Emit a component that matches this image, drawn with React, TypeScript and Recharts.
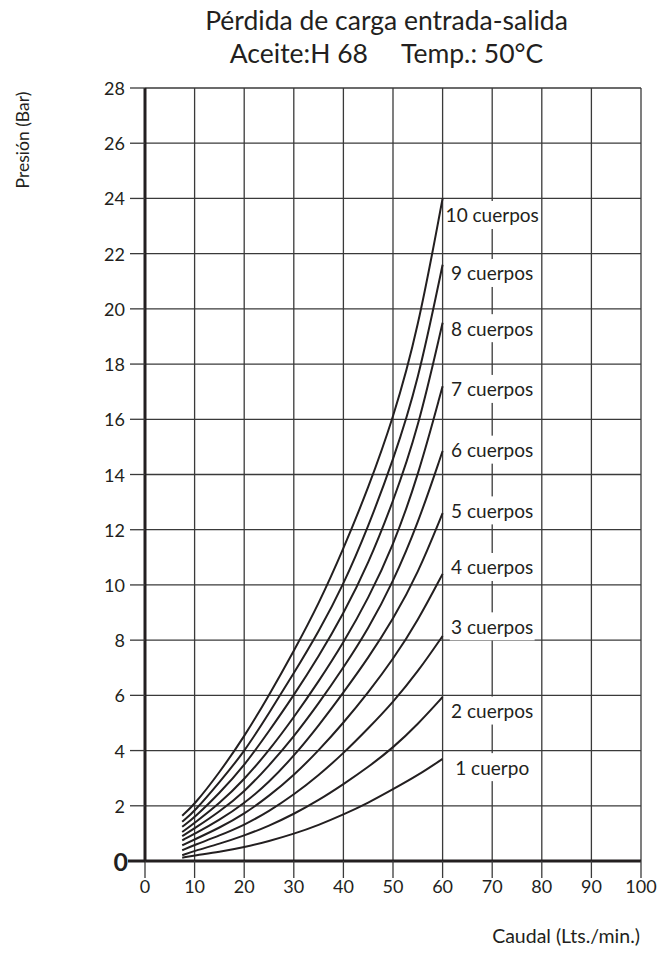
import React from "react";
import { LineChart, Line, XAxis, YAxis, CartesianGrid, ReferenceDot } from "recharts";

// caudal (Lts./min.)
const caudal = [7.5, 10, 15, 20, 25, 30, 35, 40, 45, 50, 55, 60];

// presión (Bar) por número de cuerpos
const c1 = [0.12, 0.2, 0.33, 0.5, 0.72, 0.98, 1.3, 1.68, 2.1, 2.6, 3.1, 3.7];
const c2 = [0.21, 0.37, 0.62, 0.92, 1.27, 1.7, 2.2, 2.78, 3.4, 4.1, 4.95, 5.94];
const c3 = [0.39, 0.58, 0.92, 1.3, 1.8, 2.4, 3.1, 3.9, 4.8, 5.75, 6.85, 8.15];
const c4 = [0.57, 0.78, 1.2, 1.7, 2.35, 3.1, 4.0, 5.0, 6.1, 7.3, 8.7, 10.4];
const c5 = [0.75, 0.98, 1.48, 2.08, 2.85, 3.8, 4.9, 6.1, 7.35, 8.75, 10.4, 12.6];
const c6 = [0.9, 1.18, 1.78, 2.5, 3.45, 4.5, 5.7, 7.0, 8.4, 10.1, 12.2, 14.85];
const c7 = [1.05, 1.38, 2.08, 2.95, 4.0, 5.2, 6.5, 7.9, 9.5, 11.4, 13.9, 17.2];
const c8 = [1.24, 1.58, 2.45, 3.45, 4.7, 6.0, 7.4, 8.95, 10.75, 13.0, 15.6, 19.5];
const c9 = [1.42, 1.8, 2.85, 3.95, 5.35, 6.8, 8.3, 10.0, 12.1, 14.5, 17.3, 21.6];
const c10 = [1.64, 2.05, 3.2, 4.5, 6.0, 7.6, 9.3, 11.3, 13.5, 16.0, 19.2, 24.0];

const series = [c1, c2, c3, c4, c5, c6, c7, c8, c9, c10];

const labelText = ["1 cuerpo", "2 cuerpos", "3 cuerpos", "4 cuerpos", "5 cuerpos", "6 cuerpos", "7 cuerpos", "8 cuerpos", "9 cuerpos", "10 cuerpos"];
const labelY = [3.4, 5.45, 8.5, 10.65, 12.7, 14.9, 17.1, 19.3, 21.3, 23.4];
const labelX = 70;

const xTicks = [0, 10, 20, 30, 40, 50, 60, 70, 80, 90, 100];
const yTicks = [0, 2, 4, 6, 8, 10, 12, 14, 16, 18, 20, 22, 24, 26, 28];

const data = caudal.map((q, i) => {
  const row: any = { q };
  series.forEach((s, k) => (row[`c${k + 1}`] = s[i]));
  return row;
});

const INK = "#231f20";
const GRID = "#3a3a3a";

const YTick = (props: any) => {
  const { x, y, payload } = props;
  if (payload.value === 0) {
    return (
      <g>
        <line x1={x} x2={x + 17} y1={y} y2={y} stroke={INK} strokeWidth={3} />
        <text x={x} y={y} textAnchor="end" dominantBaseline="central" fontSize={25} fontWeight={700} fill={INK}>
          0
        </text>
      </g>
    );
  }
  return (
    <text x={x - 3} y={y} textAnchor="end" dominantBaseline="central" fontSize={18} fill={INK}>
      {payload.value}
    </text>
  );
};

const CurveLabel = (text: string) => (props: any) => {
  const { cx, cy } = props;
  const w = text.length * 9.2 + 2;
  return (
    <g>
      <rect x={cx - w / 2} y={cy - 14} width={w} height={28} fill="#fff" />
      <text x={cx} y={cy} textAnchor="middle" dominantBaseline="central" fontSize={19} fill={INK}>
        {text}
      </text>
    </g>
  );
};

export default function App() {
  return (
    <div style={{ position: "absolute", left: 0, top: 0, width: 659, height: 953, background: "#fff", fontFamily: "Lato, sans-serif", color: INK }}>
      <div style={{ position: "absolute", left: 145, width: 483, top: 4, textAlign: "center", fontSize: 26.5, lineHeight: "33px" }}>
        <div>Pérdida de carga entrada-salida</div>
        <div style={{ whiteSpace: "pre" }}>{"Aceite:H 68     Temp.: 50°C"}</div>
      </div>
      <div style={{ position: "absolute", left: 22, top: 140, transform: "translate(-50%, -50%) rotate(-90deg)", fontSize: 17.5, whiteSpace: "nowrap" }}>
        Presión (Bar)
      </div>
      <div style={{ position: "absolute", right: 19, top: 924, fontSize: 19.5, whiteSpace: "nowrap" }}>
        Caudal (Lts./min.)
      </div>
      <LineChart width={659} height={953} data={data} margin={{ top: 88, right: 18, bottom: 62, left: 100 }} style={{ fontFamily: "Lato, sans-serif" }}>
        <CartesianGrid stroke={GRID} strokeWidth={1.3} horizontalValues={yTicks} verticalValues={xTicks} />
        <XAxis
          dataKey="q"
          type="number"
          domain={[0, 100]}
          ticks={xTicks}
          interval={0}
          height={30}
          tickSize={17}
          axisLine={{ stroke: INK, strokeWidth: 3 }}
          tickLine={{ stroke: GRID, strokeWidth: 1.3 }}
          tick={{ fontSize: 18, fill: INK }}
        />
        <YAxis
          type="number"
          domain={[0, 28]}
          ticks={yTicks}
          interval={0}
          width={45}
          tickSize={15}
          axisLine={{ stroke: INK, strokeWidth: 3 }}
          tickLine={{ stroke: GRID, strokeWidth: 1.3 }}
          tick={<YTick />}
        />
        {series.map((_, k) => (
          <Line key={k} dataKey={`c${k + 1}`} type="basis" stroke={INK} strokeWidth={2} dot={false} isAnimationActive={false} />
        ))}
        {labelText.map((t, k) => (
          <ReferenceDot key={t} x={labelX} y={labelY[k]} r={0} shape={CurveLabel(t)} />
        ))}
      </LineChart>
    </div>
  );
}
